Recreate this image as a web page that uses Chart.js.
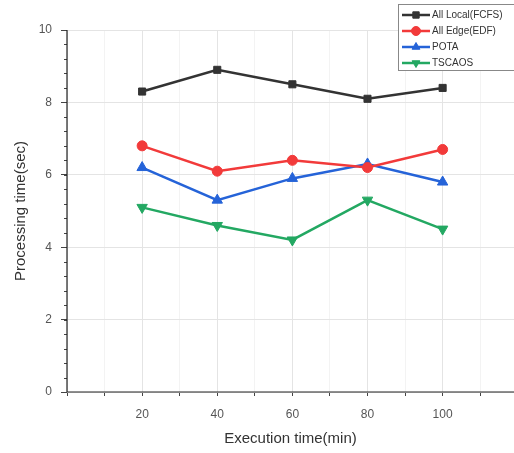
<!DOCTYPE html>
<html>
<head>
<meta charset="utf-8">
<script src="https://cdn.jsdelivr.net/npm/chart.js@4/dist/chart.umd.min.js"></script>
<style>
  html, body { margin: 0; padding: 0; background: #fff; }
  #wrap { width: 514px; height: 453px; position: relative; }
</style>
</head>
<body>
<div id="wrap"><canvas id="c" width="514" height="453"></canvas></div>
<script>
  "use strict";
  // values
  var execTimes = [20, 40, 60, 80, 100];
  var allLocal = [8.3, 8.9, 8.5, 8.1, 8.4];
  var allEdge = [6.8, 6.1, 6.4, 6.2, 6.7];
  var pota = [6.2, 5.3, 5.9, 6.3, 5.8];
  var tscaos = [5.1, 4.6, 4.2, 5.3, 4.5];
  var seriesNames = ["All Local(FCFS)", "All Edge(EDF)", "POTA", "TSCAOS"];
  var yTicks = [0, 2, 4, 6, 8, 10];
  var xTickLabels = [20, 40, 60, 80, 100];

  var colors = ["#333333", "#f23a3a", "#2563d8", "#23a862"];
  var shapes = ["rect", "circle", "triangle", "triangle"];
  var rots = [0, 0, 0, 180];
  var radii = [5, 5, 6, 6];
  var values = [allLocal, allEdge, pota, tscaos];

  function pts(arr) {
    return arr.map(function (v, i) { return { x: execTimes[i], y: v }; });
  }

  var datasets = values.map(function (arr, i) {
    return {
      label: seriesNames[i],
      data: pts(arr),
      borderColor: colors[i],
      backgroundColor: colors[i],
      borderWidth: 2.5,
      pointStyle: shapes[i],
      rotation: rots[i],
      pointRadius: radii[i],
      pointBorderWidth: 1,
      tension: 0
    };
  });

  // legend box drawn like the original (sits over the top right corner)
  var legendBox = {
    id: "legendBox",
    afterDraw: function (chart) {
      var ctx = chart.ctx;
      ctx.save();
      ctx.fillStyle = "#fff";
      ctx.fillRect(398, 4, 120, 66);
      ctx.strokeStyle = "#888";
      ctx.lineWidth = 1;
      ctx.strokeRect(398.5, 4.5, 120, 66);
      ctx.font = "10px 'Liberation Sans', Arial, sans-serif";
      ctx.textBaseline = "middle";
      chart.data.datasets.forEach(function (ds, i) {
        var y = 15 + i * 16;
        ctx.strokeStyle = ds.borderColor;
        ctx.lineWidth = 2.5;
        ctx.beginPath(); ctx.moveTo(402, y); ctx.lineTo(430, y); ctx.stroke();
        ctx.fillStyle = ds.borderColor;
        ctx.lineWidth = 1;
        Chart.helpers.drawPoint(ctx, {
          pointStyle: ds.pointStyle, rotation: ds.rotation, radius: 4.5, borderWidth: 1
        }, 416, y);
        ctx.fillStyle = "#333";
        ctx.fillText(ds.label, 432, y);
      });
      ctx.restore();
    }
  };

  // minor ticks on the y axis and the dark axis lines
  var minorTicks = {
    id: "minorTicks",
    afterDraw: function (chart) {
      var ctx = chart.ctx, xs = chart.scales.x, ys = chart.scales.y;
      ctx.save();
      ctx.strokeStyle = "#444";
      ctx.lineWidth = 1;
      for (var v = 0; v <= 10.001; v += 0.4) {
        var py = Math.round(ys.getPixelForValue(v)) + 0.5;
        ctx.beginPath(); ctx.moveTo(xs.left - 3, py); ctx.lineTo(xs.left, py); ctx.stroke();
      }
      ctx.strokeStyle = "#222";
      ctx.lineWidth = 1.2;
      ctx.beginPath(); ctx.moveTo(xs.left, ys.top); ctx.lineTo(xs.left, ys.bottom); ctx.stroke();
      ctx.beginPath(); ctx.moveTo(xs.left, ys.bottom); ctx.lineTo(xs.right, ys.bottom); ctx.stroke();
      ctx.restore();
    }
  };

  new Chart(document.getElementById("c"), {
    type: "line",
    data: { datasets: datasets },
    plugins: [minorTicks, legendBox],
    options: {
      responsive: false,
      animation: false,
      layout: { autoPadding: false, padding: { top: 30, right: 0, left: 12, bottom: 0 } },
      plugins: { legend: { display: false }, tooltip: { enabled: false } },
      scales: {
        x: {
          type: "linear", min: 0, max: 119,
          afterBuildTicks: function (s) {
            s.ticks = [0, 10, 20, 30, 40, 50, 60, 70, 80, 90, 100, 110].map(function (v) { return { value: v }; });
          },
          afterFit: function (s) { s.height = 61; },
          ticks: {
            autoSkip: false, maxRotation: 0, color: "#555", padding: 11,
            font: { size: 12, family: "'Liberation Sans', Arial, sans-serif" },
            callback: function (v) { return xTickLabels.indexOf(v) >= 0 ? String(v) : ""; }
          },
          grid: {
            color: function (c) { return c.tick && c.tick.value % 20 === 0 ? "#e4e4e4" : "#f3f3f3"; },
            tickColor: "#444", tickLength: 4, drawTicks: true
          },
          border: { display: false },
          title: {
            display: true, text: "Execution time(min)", color: "#333",
            font: { size: 15, family: "'Liberation Sans', Arial, sans-serif" },
            padding: { top: 2, bottom: 5 }
          }
        },
        y: {
          min: 0, max: 10,
          afterBuildTicks: function (s) {
            s.ticks = yTicks.map(function (v) { return { value: v }; });
          },
          afterFit: function (s) { s.width = 55; },
          ticks: {
            color: "#555", padding: 9,
            font: { size: 12, family: "'Liberation Sans', Arial, sans-serif" }
          },
          grid: { color: "#e4e4e4", tickColor: "#444", tickLength: 6 },
          border: { display: false },
          title: {
            display: true, text: "Processing time(sec)", color: "#333",
            font: { size: 15, family: "'Liberation Sans', Arial, sans-serif" },
            padding: { top: 0, bottom: 0 }
          }
        }
      }
    }
  });
</script>
</body>
</html>
